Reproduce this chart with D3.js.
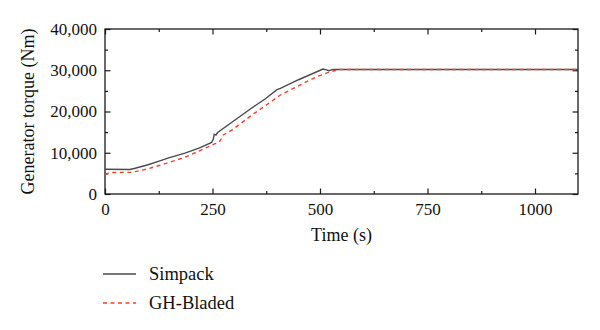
<!DOCTYPE html>
<html>
<head>
<meta charset="utf-8">
<script src="https://cdn.jsdelivr.net/npm/d3@7"></script>
<style>
  html, body { margin: 0; padding: 0; background: #fff; }
  svg { display: block; }
  svg text { font-family: "Liberation Serif", serif !important; }
</style>
</head>
<body>
<svg id="chart" width="600" height="330"></svg>
<script>
// ---- data ----
const simpackTime   = [0, 58, 70, 100, 124, 150, 186, 220, 248, 252, 254, 258, 262, 338, 373, 400, 408, 450, 507, 515, 521, 530, 1100];
const simpackTorque = [6000, 5950, 6250, 7100, 7900, 8800, 9900, 11200, 12500, 13300, 14500, 14300, 14900, 20600, 23100, 25300, 25600, 27700, 30300, 30100, 29900, 30200, 30200];

const bladedTime   = [0, 15, 60, 78, 100, 124, 150, 186, 233, 256, 265, 270, 275, 295, 345, 373, 408, 454, 493, 524, 545, 1100];
const bladedTorque = [4800, 5200, 5250, 5600, 6100, 6850, 7700, 8900, 11100, 12200, 12500, 13300, 14300, 15500, 19400, 21400, 24000, 26450, 28450, 29650, 30200, 30200];

const xMajorTicks = [0, 250, 500, 750, 1000];
const xMinorTicks = [125, 375, 625, 875];
const yMajorTicks = [0, 10000, 20000, 30000, 40000];
const yMinorTicks = [5000, 15000, 25000, 35000];

const seriesNames = ["Simpack", "GH-Bladed"];
const xTitle = "Time (s)";
const yTitle = "Generator torque (Nm)";

// ---- layout ----
const L = 105, R = 578, T = 29, B = 194;
const FONT = "Liberation Serif, serif";
const svg = d3.select("#chart");

const x = d3.scaleLinear().domain([0, 1100]).range([L, R]);
const y = d3.scaleLinear().domain([0, 40000]).range([B, T]);

const axisColor = "#1a1a1a";

function styleAxis(g) {
  g.attr("font-family", null).attr("font-size", null);
  g.select(".domain").remove();
  g.selectAll(".tick line").attr("stroke", axisColor).attr("stroke-width", 1.2);
  g.selectAll("text").attr("fill", "#111")
    .style("font-family", FONT).style("font-size", "17px");
}

// bottom
svg.append("g").attr("transform", `translate(0,${B})`)
  .call(d3.axisBottom(x).tickValues(xMajorTicks).tickSize(-5.5).tickSizeOuter(0).tickPadding(9).tickFormat(d3.format("d")))
  .call(styleAxis);
svg.append("g").attr("transform", `translate(0,${B})`)
  .call(d3.axisBottom(x).tickValues(xMinorTicks).tickSize(-3).tickSizeOuter(0).tickFormat(""))
  .call(styleAxis);
// top
svg.append("g").attr("transform", `translate(0,${T})`)
  .call(d3.axisTop(x).tickValues(xMajorTicks).tickSize(-5.5).tickSizeOuter(0).tickFormat(""))
  .call(styleAxis);
svg.append("g").attr("transform", `translate(0,${T})`)
  .call(d3.axisTop(x).tickValues(xMinorTicks).tickSize(-3).tickSizeOuter(0).tickFormat(""))
  .call(styleAxis);
// left
svg.append("g").attr("transform", `translate(${L},0)`)
  .call(d3.axisLeft(y).tickValues(yMajorTicks).tickSize(-5.5).tickSizeOuter(0).tickPadding(8).tickFormat(d3.format(",")))
  .call(styleAxis);
svg.append("g").attr("transform", `translate(${L},0)`)
  .call(d3.axisLeft(y).tickValues(yMinorTicks).tickSize(-3).tickSizeOuter(0).tickFormat(""))
  .call(styleAxis);
// right
svg.append("g").attr("transform", `translate(${R},0)`)
  .call(d3.axisRight(y).tickValues(yMajorTicks).tickSize(-5.5).tickSizeOuter(0).tickFormat(""))
  .call(styleAxis);
svg.append("g").attr("transform", `translate(${R},0)`)
  .call(d3.axisRight(y).tickValues(yMinorTicks).tickSize(-3).tickSizeOuter(0).tickFormat(""))
  .call(styleAxis);

// frame
svg.append("rect")
  .attr("x", L).attr("y", T).attr("width", R - L).attr("height", B - T)
  .attr("fill", "none").attr("stroke", axisColor).attr("stroke-width", 1.3);

// lines
const line = d3.line().x(d => x(d[0])).y(d => y(d[1]));
const simpackData = simpackTime.map((t, i) => [t, simpackTorque[i]]);
const bladedData = bladedTime.map((t, i) => [t, bladedTorque[i]]);

const simpackStyle = { stroke: "#4a4a4a", width: 1.4, dash: null };
const bladedStyle  = { stroke: "#f2432a", width: 1.4, dash: "4,3.5" };

svg.append("path").datum(simpackData)
  .attr("d", line).attr("fill", "none")
  .attr("stroke", simpackStyle.stroke).attr("stroke-width", simpackStyle.width);
svg.append("path").datum(bladedData)
  .attr("d", line).attr("fill", "none")
  .attr("stroke", bladedStyle.stroke).attr("stroke-width", bladedStyle.width)
  .attr("stroke-dasharray", bladedStyle.dash);

// axis titles
svg.append("text")
  .attr("x", (L + R) / 2).attr("y", 241)
  .attr("text-anchor", "middle").attr("font-size", 18).attr("fill", "#111")
  .text(xTitle);
svg.append("text")
  .attr("transform", `translate(34,${(T + B) / 2}) rotate(-90)`)
  .attr("text-anchor", "middle").attr("font-size", 18).attr("fill", "#111")
  .text(yTitle);

// legend
const legendStyles = [simpackStyle, bladedStyle];
const legendY = [274, 303];
seriesNames.forEach((name, i) => {
  const st = legendStyles[i];
  svg.append("line")
    .attr("x1", 103).attr("x2", 136).attr("y1", legendY[i]).attr("y2", legendY[i])
    .attr("stroke", st.stroke).attr("stroke-width", st.width)
    .attr("stroke-dasharray", st.dash);
  svg.append("text")
    .attr("x", 149).attr("y", legendY[i] + 5.5)
    .attr("font-size", 18.5).attr("fill", "#111")
    .text(name);
});
</script>
</body>
</html>
